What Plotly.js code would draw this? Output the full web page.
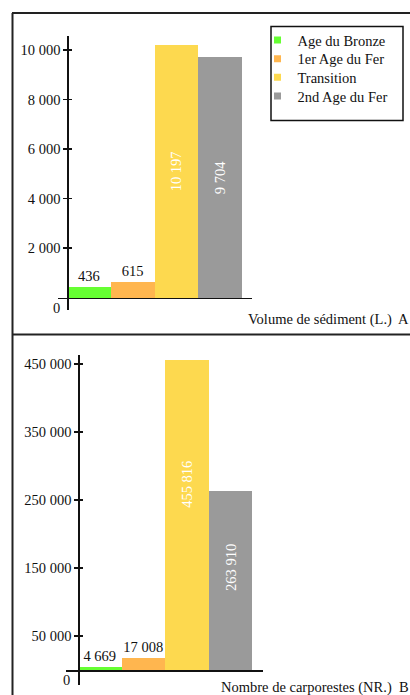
<!DOCTYPE html>
<html>
<head>
<meta charset="utf-8">
<script src="https://cdn.plot.ly/plotly-3.0.1.min.js"></script>
<style>html,body{margin:0;padding:0;background:#fff;}#chart{width:410px;height:695px;}</style>
</head>
<body>
<div id="chart"></div>
<script>
// ---- data ----
const categories = ['Age du Bronze', '1er Age du Fer', 'Transition', '2nd Age du Fer'];
const volumeSediment = [436, 615, 10197, 9704];
const carporestes = [4669, 17008, 455816, 263910];
const volumeTicks = [2000, 4000, 6000, 8000, 10000];
const carpoTicks = [50000, 150000, 250000, 350000, 450000];
const panelTitles = ['Volume de sédiment (L.)', 'Nombre de carporestes (NR.)'];
const panelLetters = ['A', 'B'];

// ---- style ----
const colors = ['#66ff33', '#ffb64f', '#fdd94f', '#9a9a9a'];
const labelPos = ['outside', 'outside', 'inside', 'inside'];
const insideFrac = [0, 0, 0.6, 0.57]; // vertical placement of inside labels, lower panel
const legendTops = [27, 45.7, 64.3, 83]; // px
const W = 410, H = 695;
const px = x => x / W;
const py = y => 1 - y / H;
const FONT = 'Liberation Serif, Times New Roman, serif';
const FS = 14.5;
const fmt = v => String(v).replace(/\B(?=(\d{3})+(?!\d))/g, ' ');

const traces = [];
categories.forEach((c, i) => {
  // upper panel
  traces.push({
    type: 'bar', x: [c], y: [volumeSediment[i]], xaxis: 'x', yaxis: 'y',
    marker: {color: colors[i], line: {width: 0}}, width: 1, showlegend: false,
    text: [fmt(volumeSediment[i])], textposition: labelPos[i],
    insidetextanchor: 'middle', textangle: labelPos[i] === 'inside' ? -90 : 0,
    constraintext: 'none', cliponaxis: false,
    textfont: {family: FONT, size: FS, color: labelPos[i] === 'inside' ? '#ffffff' : '#111'},
    hoverinfo: 'skip'
  });
  // lower panel
  traces.push({
    type: 'bar', x: [c], y: [carporestes[i]], xaxis: 'x2', yaxis: 'y2',
    marker: {color: colors[i], line: {width: 0}}, width: 1, showlegend: false,
    text: labelPos[i] === 'outside' ? [fmt(carporestes[i])] : [''],
    textposition: labelPos[i] === 'outside' ? 'outside' : 'none',
    constraintext: 'none', cliponaxis: false,
    textfont: {family: FONT, size: FS, color: '#111'},
    hoverinfo: 'skip'
  });
});
// legend entries (one legend per entry for exact spacing)
const legendKeys = ['legend', 'legend2', 'legend3', 'legend4'];
categories.forEach((c, i) => {
  traces.push({
    type: 'scatter', mode: 'markers', x: [null], y: [null], xaxis: 'x', yaxis: 'y',
    name: c, legend: legendKeys[i], showlegend: true,
    marker: {symbol: 'square', size: 7, color: colors[i]}, hoverinfo: 'skip'
  });
});

const annotations = [];
categories.forEach((c, i) => {
  if (labelPos[i] === 'inside') {
    annotations.push({
      x: c, y: carporestes[i] * insideFrac[i], xref: 'x2', yref: 'y2',
      text: fmt(carporestes[i]), textangle: -90, showarrow: false,
      font: {family: FONT, size: FS, color: '#ffffff'}
    });
  }
});
const txt = {family: FONT, size: FS, color: '#111'};
annotations.push({x: px(61.5), y: py(308), xref: 'paper', yref: 'paper', xanchor: 'right', yanchor: 'middle', text: '0', showarrow: false, font: txt});
annotations.push({x: px(71.5), y: py(680), xref: 'paper', yref: 'paper', xanchor: 'right', yanchor: 'middle', text: '0', showarrow: false, font: txt});
annotations.push({x: px(246), y: py(319), xref: 'paper', yref: 'paper', xanchor: 'left', yanchor: 'middle', text: panelTitles[0], showarrow: false, font: txt});
annotations.push({x: px(396), y: py(319), xref: 'paper', yref: 'paper', xanchor: 'left', yanchor: 'middle', text: panelLetters[0], showarrow: false, font: txt});
annotations.push({x: px(219), y: py(687), xref: 'paper', yref: 'paper', xanchor: 'left', yanchor: 'middle', text: panelTitles[1], showarrow: false, font: txt});
annotations.push({x: px(397), y: py(687), xref: 'paper', yref: 'paper', xanchor: 'left', yanchor: 'middle', text: panelLetters[1], showarrow: false, font: txt});

const frameLine = {color: '#222', width: 2};
const shapes = [
  {type: 'line', xref: 'paper', yref: 'paper', x0: px(12.5), x1: px(12.5), y0: py(13), y1: py(700), line: frameLine},
  {type: 'line', xref: 'paper', yref: 'paper', x0: px(12), x1: px(415), y0: py(13), y1: py(13), line: frameLine},
  {type: 'line', xref: 'paper', yref: 'paper', x0: px(12), x1: px(415), y0: py(334.5), y1: py(334.5), line: frameLine},
  {type: 'rect', xref: 'paper', yref: 'paper', x0: px(271), x1: px(403), y0: py(26.5), y1: py(120.5), line: {color: '#111', width: 1.5}}
];

const layout = {
  width: W, height: H,
  margin: {l: 0, r: 0, t: 0, b: 0},
  paper_bgcolor: '#fff', plot_bgcolor: 'rgba(0,0,0,0)',
  separators: '. ',
  barmode: 'overlay', bargap: 0,
  showlegend: true,
  font: txt,
  hovermode: false,
  xaxis: {
    domain: [px(58), px(252)], anchor: 'free', position: py(297.7),
    type: 'category', categoryorder: 'array', categoryarray: categories,
    range: [-0.706, 3.729], showline: true, linecolor: '#111', linewidth: 1.5,
    ticks: '', showticklabels: false, showgrid: false, zeroline: false, fixedrange: true
  },
  yaxis: {
    domain: [py(310), py(36)], anchor: 'free', position: px(67.3),
    range: [-(310 - 297.7) / 0.02477, (297.7 - 36) / 0.02477],
    showline: true, linecolor: '#111', linewidth: 1.5,
    tickmode: 'array', tickvals: volumeTicks, tickformat: ',d',
    ticks: 'outside', ticklen: 4, tickwidth: 1.5, tickcolor: '#111',
    tickfont: txt, showgrid: false, zeroline: false, fixedrange: true
  },
  yaxis3: {
    overlaying: 'y', anchor: 'free', position: px(67.3),
    range: [-(310 - 297.7) / 0.02477, (297.7 - 36) / 0.02477],
    tickmode: 'array', tickvals: volumeTicks,
    ticks: 'inside', ticklen: 4, tickwidth: 1.5, tickcolor: '#111',
    showticklabels: false, showline: false, showgrid: false, zeroline: false
  },
  xaxis2: {
    domain: [px(66), px(263)], anchor: 'free', position: py(670),
    type: 'category', categoryorder: 'array', categoryarray: categories,
    range: [-0.776, 3.753], showline: true, linecolor: '#111', linewidth: 1.5,
    ticks: '', showticklabels: false, showgrid: false, zeroline: false, fixedrange: true
  },
  yaxis2: {
    domain: [py(685), py(355)], anchor: 'free', position: px(78.3),
    range: [-(685 - 670) / 0.00068, (670 - 355) / 0.00068],
    showline: true, linecolor: '#111', linewidth: 1.5,
    tickmode: 'array', tickvals: carpoTicks, tickformat: ',d',
    ticks: 'outside', ticklen: 4, tickwidth: 1.5, tickcolor: '#111',
    tickfont: txt, showgrid: false, zeroline: false, fixedrange: true
  },
  yaxis4: {
    overlaying: 'y2', anchor: 'free', position: px(78.3),
    range: [-(685 - 670) / 0.00068, (670 - 355) / 0.00068],
    tickmode: 'array', tickvals: carpoTicks,
    ticks: 'inside', ticklen: 4, tickwidth: 1.5, tickcolor: '#111',
    showticklabels: false, showline: false, showgrid: false, zeroline: false
  },
  annotations: annotations,
  shapes: shapes
};
legendKeys.forEach((k, i) => {
  layout[k] = {
    x: px(257.5), y: py(legendTops[i] - 3), xanchor: 'left', yanchor: 'top',
    bgcolor: 'rgba(0,0,0,0)', borderwidth: 0, font: txt
  };
});

traces.push({type: 'scatter', mode: 'none', x: [null], y: [null], xaxis: 'x', yaxis: 'y3', showlegend: false, hoverinfo: 'skip'});
traces.push({type: 'scatter', mode: 'none', x: [null], y: [null], xaxis: 'x2', yaxis: 'y4', showlegend: false, hoverinfo: 'skip'});

Plotly.newPlot('chart', traces, layout, {staticPlot: true, displayModeBar: false});
</script>
</body>
</html>
